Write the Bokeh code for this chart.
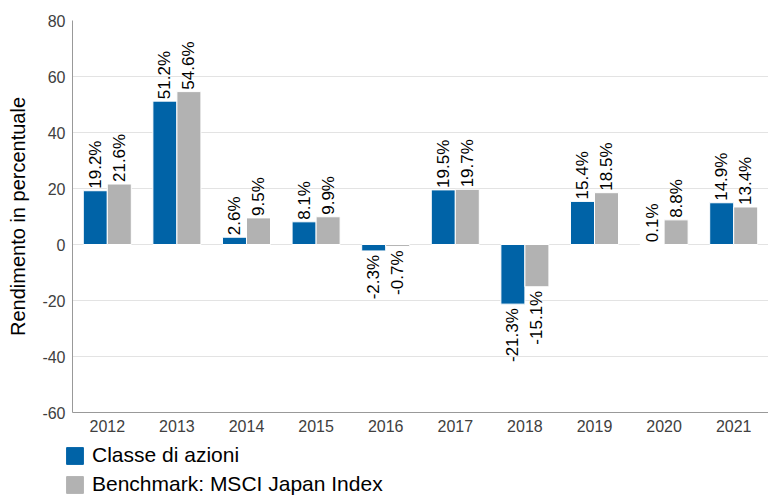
import math
from bokeh.plotting import figure
from bokeh.layouts import column, row
from bokeh.models import (ColumnDataSource, FactorRange, Range1d, FixedTicker, Legend, LegendItem, LabelSet)
from bokeh.core.properties import value
from bokeh.transform import dodge
from bokeh.embed import file_html
from bokeh.resources import INLINE

years = ["2012", "2013", "2014", "2015", "2016", "2017", "2018", "2019", "2020", "2021"]
fund = [19.2, 51.2, 2.6, 8.1, -2.3, 19.5, -21.3, 15.4, 0.1, 14.9]
bench = [21.6, 54.6, 9.5, 9.9, -0.7, 19.7, -15.1, 18.5, 8.8, 13.4]
series_names = ["Classe di azioni", "Benchmark: MSCI Japan Index"]
y_ticks = [-60, -40, -20, 0, 20, 40, 60, 80]

BLUE = "#0063a7"
GREY = "#b2b2b2"
FONT = "Liberation Sans"

p = figure(width=768, height=441, x_range=FactorRange(*years, range_padding=0),
           y_range=Range1d(-60, 80), output_backend="svg", toolbar_location=None,
           min_border_left=72, min_border_right=0, min_border_top=20, min_border_bottom=29)
p.outline_line_color = None

src = ColumnDataSource(dict(year=years, fund=fund, bench=bench))
w = 0.345
r1 = p.vbar(x=dodge("year", -w / 2, range=p.x_range), top="fund", width=w, source=src,
            fill_color=BLUE, line_color="white", line_width=1)
r2 = p.vbar(x=dodge("year", w / 2, range=p.x_range), top="bench", width=w, source=src,
            fill_color=GREY, line_color="white", line_width=1)

def label_sets(vals, off):
    pos = [i for i, v in enumerate(vals) if v >= 0]
    neg = [i for i, v in enumerate(vals) if v < 0]
    out = []
    for idx, align, yo in ((pos, "left", 2), (neg, "right", -4)):
        if not idx:
            continue
        s = ColumnDataSource(dict(year=[years[i] for i in idx], v=[vals[i] for i in idx],
                                  t=[f"{vals[i]:.1f}%" for i in idx]))
        out.append(LabelSet(x=dodge("year", off, range=p.x_range), y="v", text="t", source=s,
                            angle=math.pi / 2, text_align=align, text_baseline="middle",
                            y_offset=yo, text_font=value(FONT), text_font_size="17px",
                            text_color="#000000"))
    return out

for ls in label_sets(fund, -w / 2) + label_sets(bench, w / 2):
    p.add_layout(ls)

p.yaxis.ticker = FixedTicker(ticks=y_ticks)
p.yaxis.major_label_overrides = {t: str(t) for t in y_ticks}
p.yaxis.axis_label = "Rendimento in percentuale"
p.yaxis.axis_label_text_font = FONT
p.yaxis.axis_label_text_font_size = "20px"
p.yaxis.axis_label_text_font_style = "normal"
p.yaxis.axis_label_text_color = "#000000"
p.yaxis.axis_label_standoff = 10
for ax in (p.xaxis, p.yaxis):
    ax.major_label_text_font = FONT
    ax.major_label_text_font_size = "16px"
    ax.major_label_text_color = "#404040"
    ax.major_tick_line_color = None
    ax.major_tick_out = 0
    ax.major_tick_in = 0
    ax.minor_tick_line_color = None
    ax.minor_tick_out = 0
    ax.minor_tick_in = 0
    ax.axis_line_color = "#999999"
    ax.major_label_standoff = 7
p.xgrid.grid_line_color = None
p.ygrid.grid_line_color = "#e3e3e3"

# legend strip below the chart (its bars fall outside its own view; only the legend shows)
p2 = figure(width=768, height=57, output_backend="svg", toolbar_location=None,
            x_range=FactorRange(*years), y_range=Range1d(1000, 1001),
            x_axis_type=None, y_axis_type=None,
            min_border_left=64, min_border_right=0, min_border_top=0, min_border_bottom=0)
p2.outline_line_color = None
p2.xgrid.visible = False
p2.ygrid.visible = False
l1 = p2.vbar(x="year", top="fund", width=0.3, source=src, fill_color=BLUE, line_color=BLUE)
l2 = p2.vbar(x="year", top="bench", width=0.3, source=src, fill_color=GREY, line_color=GREY)
legend = Legend(items=[LegendItem(label=series_names[0], renderers=[l1]),
                       LegendItem(label=series_names[1], renderers=[l2])],
                location=(0, 2), orientation="vertical", padding=0, margin=0, spacing=5,
                glyph_width=21, glyph_height=21, label_height=21, label_standoff=7,
                label_text_font=FONT, label_text_font_size="21px", label_text_color="#000000",
                border_line_color=None, background_fill_alpha=0)
p2.add_layout(legend, "center")

layout = column(p, row(p2, spacing=0), spacing=0)
open("out.html", "w").write(file_html(layout, INLINE))
